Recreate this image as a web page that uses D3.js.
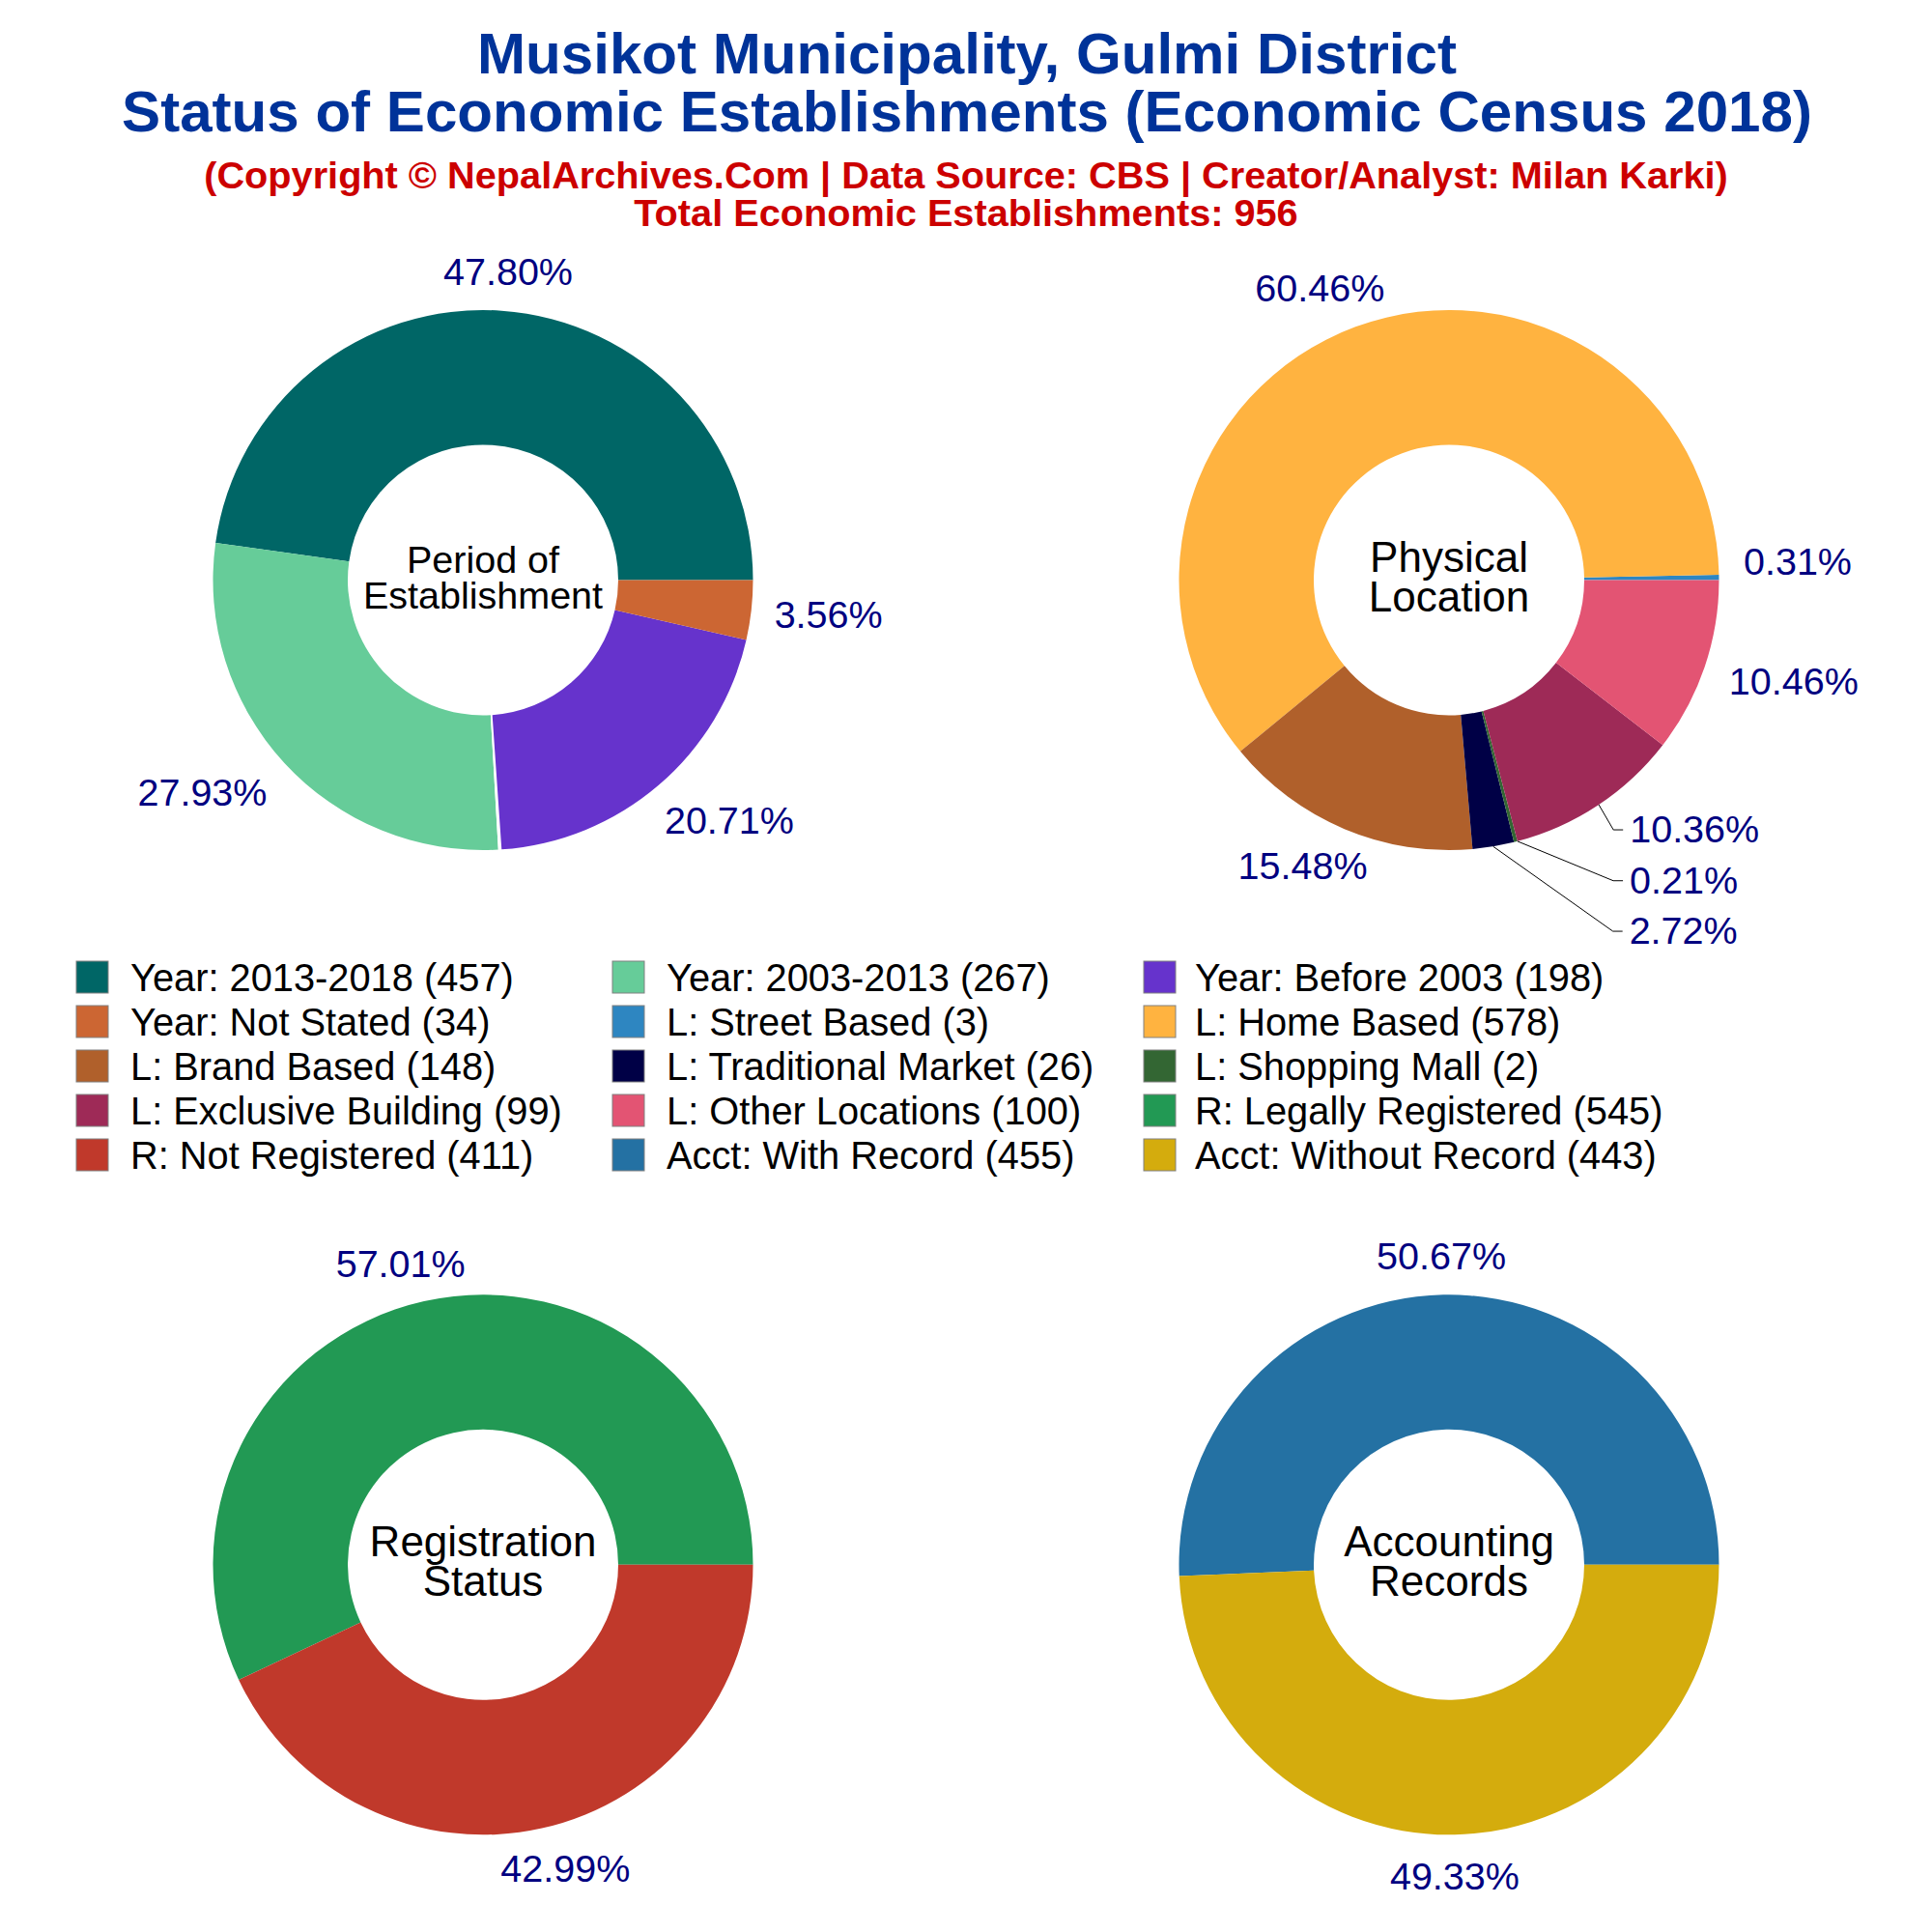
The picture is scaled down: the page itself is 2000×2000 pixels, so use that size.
<!DOCTYPE html>
<html>
<head>
<meta charset="utf-8">
<script src="https://cdn.jsdelivr.net/npm/d3@7"></script>
<style>
  html, body { margin: 0; padding: 0; background: #fff; }
  text { font-family: "Liberation Sans", Arial, sans-serif; }
</style>
</head>
<body>
<div id="chart"></div>
<script>
// data
const periodLabels = ["Year: 2013-2018", "Year: 2003-2013", "Year: Before 2003", "Year: Not Stated"];
const periodValues = [457, 267, 198, 34];
const locationLabels = ["L: Street Based", "L: Home Based", "L: Brand Based", "L: Traditional Market", "L: Shopping Mall", "L: Exclusive Building", "L: Other Locations"];
const locationValues = [3, 578, 148, 26, 2, 99, 100];
const registrationLabels = ["R: Legally Registered", "R: Not Registered"];
const registrationValues = [545, 411];
const accountLabels = ["Acct: With Record", "Acct: Without Record"];
const accountValues = [455, 443];

// wedge sizes as drawn in the picture, they differ a little from the printed counts
// (period has a thin white gap between the green and purple wedges)
const periodWedges = [457, 268.6, 1.9, 194.5, 34];
const periodWedgeColors = ["#006666", "#66CC99", "#FFFFFF", "#6633CC", "#CC6633"];
const locationWedges = [3, 579.6, 147.7, 23.7, 2, 100, 100];

const periodColors = ["#006666", "#66CC99", "#6633CC", "#CC6633"];
const locationColors = ["#2E86C1", "#FFB340", "#B0602B", "#000046", "#336633", "#9E2A57", "#E35473"];
const registrationColors = ["#229954", "#C0392B"];
const accountColors = ["#2471A3", "#D4AC0D"];

const titleLines = ["Musikot Municipality, Gulmi District", "Status of Economic Establishments (Economic Census 2018)"];
const subtitleLines = ["(Copyright © NepalArchives.Com | Data Source: CBS | Creator/Analyst: Milan Karki)", "Total Economic Establishments: 956"];

// layout
const width = 2000, height = 2000;
const outerR = 279.5, innerR = 140, labelR = 310;

const panels = [
  { labels: periodLabels, values: periodValues, colors: periodColors,
    wedges: periodWedges, wedgeColors: periodWedgeColors, cx: 500, cy: 600.5,
    center: ["Period of", "Establishment"], centerSize: 39.5,
    nudges: [[0, 11], [-12, -2], [13, -4], [-17, 0]], leaders: [] },
  { labels: locationLabels, values: locationValues, colors: locationColors,
    wedges: locationWedges, wedgeColors: locationColors, cx: 1500, cy: 600.5,
    center: ["Physical", "Location"], centerSize: 44,
    nudges: [[-16, -15], [-5, 9], [-2, -7], [181, 38], [147.5, -8], [45, -16], [0, -1]], leaders: [3, 4, 5] },
  { labels: registrationLabels, values: registrationValues, colors: registrationColors,
    wedges: registrationValues, wedgeColors: registrationColors, cx: 500, cy: 1619.8,
    center: ["Registration", "Status"], centerSize: 44,
    nudges: [[-3, 11], [3, -7]], leaders: [] },
  { labels: accountLabels, values: accountValues, colors: accountColors,
    wedges: accountValues, wedgeColors: accountColors, cx: 1500, cy: 1619.8,
    center: ["Accounting", "Records"], centerSize: 44,
    nudges: [[0, 11], [-2, -7]], leaders: [] }
];

const svg = d3.select("#chart").append("svg")
  .attr("width", width)
  .attr("height", height)
  .style("display", "block");

svg.append("rect").attr("width", width).attr("height", height).attr("fill", "#fff");

// titles
svg.selectAll(".title").data(titleLines).enter().append("text")
  .attr("class", "title")
  .attr("x", 1001)
  .attr("y", (d, i) => 76 + i * 60)
  .attr("text-anchor", "middle")
  .attr("font-size", 60.1)
  .attr("font-weight", "bold")
  .attr("fill", "#003399")
  .text(d => d);

svg.selectAll(".subtitle").data(subtitleLines).enter().append("text")
  .attr("class", "subtitle")
  .attr("x", 1000)
  .attr("y", (d, i) => 195 + i * 39)
  .attr("text-anchor", "middle")
  .attr("font-size", 39.7)
  .attr("font-weight", "bold")
  .attr("fill", "#CC0000")
  .text(d => d);

// counter clockwise from 3 o'clock
const pie = d3.pie()
  .sort(null)
  .startAngle(Math.PI / 2)
  .endAngle(Math.PI / 2 - 2 * Math.PI);

const arc = d3.arc().innerRadius(innerR).outerRadius(outerR);

panels.forEach(p => {
  const g = svg.append("g").attr("transform", `translate(${p.cx},${p.cy})`);
  const total = d3.sum(p.values);

  g.selectAll("path").data(pie(p.wedges)).enter().append("path")
    .attr("d", arc)
    .attr("fill", (d, i) => p.wedgeColors[i]);

  pie(p.values).forEach((d, i) => {
    const mid = (d.startAngle + d.endAngle) / 2;
    const ux = Math.sin(mid), uy = -Math.cos(mid);
    const nudge = p.nudges[i];
    const x = (labelR + 67) * ux + nudge[0];
    const y = (labelR + 20) * uy + nudge[1];

    const label = g.append("text")
      .attr("x", x)
      .attr("y", y)
      .attr("dy", "0.33em")
      .attr("text-anchor", "middle")
      .attr("font-size", 39.5)
      .attr("fill", "#000080")
      .text(d3.format(".2f")(d.value / total * 100) + "%");

    if (p.leaders.includes(i)) {
      const left = x - label.node().getComputedTextLength() / 2;
      const line = d3.line();
      g.append("path")
        .attr("d", line([[outerR * ux, outerR * uy], [left - 17, y], [left - 7, y]]))
        .attr("fill", "none")
        .attr("stroke", "#000")
        .attr("stroke-width", 1);
    }
  });

  g.selectAll(".center").data(p.center).enter().append("text")
    .attr("class", "center")
    .attr("y", (d, i) => (i === 0 ? -p.centerSize * 0.55 : p.centerSize * 0.38))
    .attr("dy", "0.36em")
    .attr("text-anchor", "middle")
    .attr("font-size", p.centerSize)
    .attr("fill", "#000")
    .text(d => d);
});

// legend, filled row by row
const legendItems = [];
panels.forEach(p => p.labels.forEach((l, i) => {
  legendItems.push({ label: l, value: p.values[i], color: p.colors[i] });
}));

const swatchX = [79, 634, 1184];
const textX = [135, 690, 1237];
const legendRow = d3.scaleLinear().domain([0, 1]).range([1011.5, 1057.5]);

const legend = svg.selectAll(".legend").data(legendItems).enter().append("g").attr("class", "legend");

legend.append("rect")
  .attr("x", (d, i) => swatchX[i % 3])
  .attr("y", (d, i) => legendRow(Math.floor(i / 3)) - 16.5)
  .attr("width", 33)
  .attr("height", 33)
  .attr("fill", d => d.color)
  .attr("stroke", "#808080")
  .attr("stroke-width", 1);

legend.append("text")
  .attr("x", (d, i) => textX[i % 3])
  .attr("y", (d, i) => legendRow(Math.floor(i / 3)))
  .attr("dy", "0.36em")
  .attr("font-size", 39.8)
  .attr("fill", "#000")
  .text(d => `${d.label} (${d.value})`);
</script>
</body>
</html>
